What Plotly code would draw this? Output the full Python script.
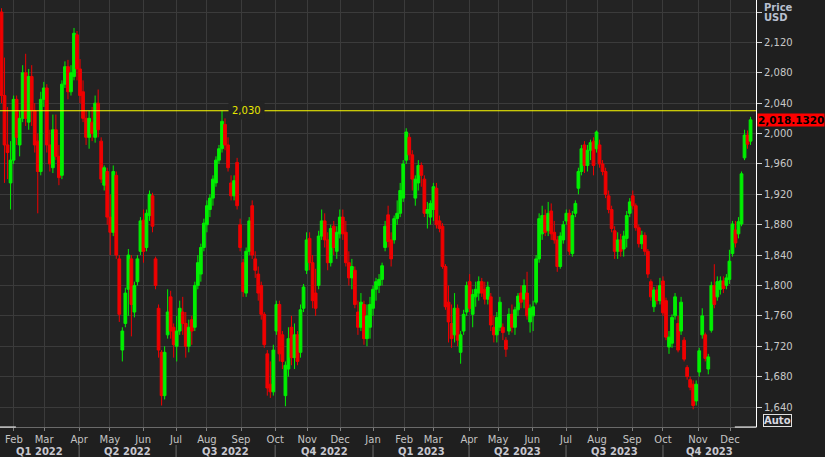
import plotly.graph_objects as go

# Each candle = 2 trading sessions, Jan 2022 .. Dec 2023
OPEN = [2160, 2050, 1985, 1935, 1965, 2045, 1985, 2020, 2080, 2015,
        2075, 2030, 1990, 1950, 2045, 2060, 1985, 1955, 2005, 1970,
        1945, 2065, 2088, 2055, 2075, 2130, 2085, 2055, 2020, 1995,
        2015, 1995, 2040, 1990, 1932, 1950, 1890, 1870, 1945, 1835,
        1715, 1750, 1795, 1835, 1765, 1805, 1845, 1886, 1850, 1892,
        1918, 1835, 1770, 1712, 1655, 1735, 1785, 1745, 1720, 1740,
        1765, 1750, 1720, 1755, 1745, 1800, 1815, 1850, 1880, 1900,
        1915, 1935, 1965, 1980, 2012, 1985, 1935, 1918, 1962, 1880,
        1830, 1790, 1845, 1905, 1835, 1815, 1800, 1762, 1710, 1670,
        1660, 1740, 1775, 1735, 1655, 1690, 1745, 1705, 1735, 1712,
        1770, 1820, 1862, 1830, 1790, 1800, 1865, 1885, 1860, 1830,
        1878, 1845, 1868, 1890, 1870, 1830, 1810, 1820, 1765, 1745,
        1775, 1730, 1745, 1770, 1795, 1800, 1808, 1850, 1893, 1860,
        1860, 1888, 1895, 1915, 1965, 1995, 1972, 1915, 1935, 1958,
        1940, 1895, 1890, 1900, 1928, 1885, 1878, 1825, 1778, 1750,
        1735, 1770, 1712, 1740, 1765, 1805, 1762, 1785, 1790, 1805,
        1795, 1782, 1785, 1745, 1735, 1745, 1745, 1728, 1740, 1762,
        1745, 1768, 1790, 1782, 1790, 1752, 1760, 1778, 1835, 1868,
        1892, 1872, 1898, 1870, 1860, 1825, 1860, 1885, 1895, 1842,
        1895, 1928, 1950, 1985, 1958, 1978, 1990, 1980, 1985, 1960,
        1950, 1918, 1900, 1872, 1845, 1860, 1848, 1862, 1895, 1918,
        1905, 1876, 1855, 1866, 1845, 1805, 1772, 1794, 1780, 1806,
        1780, 1719, 1724, 1760, 1750, 1740, 1728, 1692, 1676, 1670,
        1648, 1686, 1735, 1735, 1690, 1741, 1800, 1785, 1795, 1806,
        1800, 1808, 1842, 1873, 1868, 1881, 1968, 1998, 1990]

HIGH = [2165, 2100, 2035, 1990, 2050, 2050, 2030, 2090, 2105, 2085,
        2090, 2040, 2000, 2055, 2068, 2065, 2005, 2025, 2025, 1985,
        2070, 2095, 2097, 2090, 2139, 2135, 2098, 2070, 2030, 2030,
        2035, 2050, 2058, 1995, 1958, 1955, 1920, 1958, 1950, 1840,
        1745, 1797, 1848, 1840, 1805, 1840, 1890, 1900, 1900, 1925,
        1922, 1838, 1775, 1715, 1720, 1795, 1793, 1750, 1760, 1780,
        1785, 1765, 1755, 1760, 1805, 1840, 1855, 1888, 1912, 1920,
        1945, 1970, 1985, 2030, 2020, 1995, 1945, 1945, 1968, 1888,
        1835, 1850, 1890, 1912, 1845, 1825, 1805, 1765, 1715, 1700,
        1722, 1780, 1780, 1740, 1700, 1745, 1760, 1750, 1740, 1775,
        1802, 1870, 1870, 1840, 1822, 1872, 1900, 1895, 1870, 1880,
        1885, 1878, 1900, 1900, 1885, 1845, 1835, 1825, 1780, 1790,
        1780, 1775, 1785, 1800, 1810, 1815, 1830, 1885, 1905, 1870,
        1892, 1912, 1935, 1965, 2007, 2000, 1978, 1945, 1965, 1962,
        1945, 1910, 1912, 1935, 1935, 1892, 1882, 1828, 1800, 1775,
        1790, 1775, 1740, 1768, 1805, 1815, 1795, 1805, 1812, 1810,
        1805, 1805, 1790, 1760, 1765, 1785, 1750, 1732, 1770, 1775,
        1772, 1790, 1800, 1808, 1818, 1775, 1780, 1840, 1895, 1905,
        1900, 1910, 1908, 1885, 1865, 1870, 1885, 1900, 1900, 1898,
        1912, 1955, 1985, 1990, 1985, 1992, 1995, 2004, 1992, 1965,
        1955, 1925, 1905, 1878, 1870, 1868, 1872, 1898, 1915, 1925,
        1908, 1880, 1872, 1870, 1848, 1808, 1798, 1800, 1810, 1812,
        1784, 1740, 1762, 1790, 1760, 1785, 1732, 1695, 1680, 1675,
        1675, 1718, 1770, 1738, 1710, 1805, 1828, 1812, 1812, 1812,
        1815, 1847, 1885, 1885, 1890, 1950, 2005, 2004, 2022]

LOW = [2040, 1935, 1940, 1900, 1960, 1985, 1970, 2015, 2010, 2005,
       2010, 1975, 1895, 1945, 2035, 1975, 1950, 1948, 1965, 1932,
       1940, 2060, 2045, 2050, 2070, 2070, 2040, 2015, 1985, 1980,
       1990, 1988, 1995, 1935, 1925, 1880, 1840, 1865, 1835, 1752,
       1700, 1745, 1760, 1733, 1758, 1800, 1840, 1830, 1845, 1885,
       1870, 1795, 1705, 1642, 1650, 1730, 1730, 1705, 1700, 1735,
       1735, 1705, 1712, 1722, 1740, 1795, 1805, 1845, 1870, 1890,
       1905, 1930, 1960, 1975, 1978, 1950, 1912, 1912, 1900, 1845,
       1785, 1785, 1840, 1835, 1810, 1780, 1755, 1718, 1655, 1652,
       1655, 1735, 1700, 1690, 1641, 1680, 1695, 1690, 1695, 1705,
       1765, 1815, 1820, 1770, 1760, 1795, 1860, 1850, 1820, 1825,
       1840, 1835, 1862, 1860, 1825, 1800, 1795, 1770, 1735, 1740,
       1722, 1720, 1730, 1760, 1780, 1790, 1800, 1845, 1850, 1825,
       1855, 1880, 1890, 1910, 1960, 1965, 1925, 1905, 1925, 1930,
       1890, 1875, 1880, 1885, 1875, 1870, 1822, 1768, 1725, 1718,
       1725, 1720, 1697, 1735, 1760, 1765, 1745, 1772, 1780, 1785,
       1775, 1775, 1740, 1725, 1725, 1740, 1728, 1706, 1735, 1738,
       1735, 1760, 1770, 1770, 1755, 1738, 1740, 1775, 1830, 1860,
       1865, 1865, 1860, 1855, 1818, 1822, 1855, 1880, 1840, 1838,
       1890, 1920, 1945, 1948, 1950, 1965, 1945, 1975, 1955, 1945,
       1915, 1895, 1870, 1835, 1835, 1838, 1838, 1850, 1890, 1900,
       1872, 1850, 1848, 1840, 1810, 1780, 1765, 1775, 1775, 1760,
       1728, 1710, 1718, 1755, 1712, 1735, 1700, 1676, 1662, 1637,
       1642, 1680, 1730, 1700, 1683, 1738, 1770, 1780, 1788, 1790,
       1795, 1802, 1838, 1850, 1862, 1878, 1965, 1980, 1985]

CLOSE = [2050, 1985, 1975, 1965, 2045, 1995, 2020, 2080, 2020, 2075,
         2030, 1985, 1950, 2045, 2060, 1985, 1960, 2005, 1970, 1942,
         2065, 2088, 2055, 2080, 2132, 2085, 2050, 2020, 1995, 2020,
         2000, 2040, 2005, 1940, 1955, 1890, 1870, 1950, 1840, 1762,
         1740, 1790, 1840, 1775, 1800, 1835, 1885, 1845, 1895, 1920,
         1878, 1800, 1715, 1655, 1712, 1765, 1740, 1722, 1740, 1770,
         1750, 1720, 1745, 1740, 1800, 1830, 1850, 1882, 1905, 1915,
         1940, 1965, 1980, 2016, 1985, 1955, 1918, 1938, 1905, 1850,
         1792, 1845, 1885, 1840, 1820, 1790, 1762, 1722, 1665, 1660,
         1715, 1775, 1710, 1700, 1695, 1730, 1705, 1735, 1700, 1768,
         1798, 1860, 1830, 1780, 1770, 1865, 1885, 1860, 1830, 1875,
         1850, 1870, 1890, 1868, 1830, 1810, 1825, 1775, 1745, 1778,
         1730, 1760, 1775, 1795, 1805, 1808, 1826, 1878, 1858, 1835,
         1888, 1895, 1925, 1960, 2002, 1972, 1940, 1940, 1958, 1945,
         1895, 1900, 1908, 1930, 1880, 1875, 1825, 1772, 1752, 1730,
         1770, 1728, 1735, 1762, 1800, 1770, 1788, 1795, 1805, 1790,
         1782, 1798, 1748, 1735, 1758, 1778, 1738, 1716, 1762, 1745,
         1768, 1786, 1778, 1800, 1760, 1770, 1772, 1835, 1888, 1892,
         1870, 1895, 1868, 1860, 1825, 1865, 1880, 1895, 1845, 1892,
         1908, 1950, 1980, 1958, 1978, 1988, 1958, 2002, 1960, 1950,
         1920, 1900, 1875, 1845, 1860, 1845, 1865, 1892, 1910, 1905,
         1876, 1855, 1866, 1845, 1815, 1785, 1794, 1780, 1800, 1764,
         1732, 1732, 1758, 1785, 1715, 1778, 1703, 1680, 1666, 1642,
         1670, 1714, 1760, 1704, 1706, 1800, 1775, 1805, 1806, 1796,
         1810, 1832, 1881, 1856, 1884, 1947, 1998, 1986, 2018]

PERIOD = list(range(len(CLOSE)))

# month starts, in candle-period units
MONTH_POS = [4.1, 14.1, 25.7, 35.9, 46.9, 57.8, 68.0, 79.3, 90.6, 101.2, 112.1,
             123.0, 133.3, 142.9, 154.8, 164.4, 175.7, 186.9, 197.2, 208.8,
             219.0, 230.6, 241.2]
MONTH_LABELS = ["Feb", "Mar", "Apr", "May", "Jun", "Jul", "Aug", "Sep", "Oct",
                "Nov", "Dec", "Jan", "Feb", "Mar", "Apr", "May", "Jun", "Jul",
                "Aug", "Sep", "Oct", "Nov", "Dec"]
QUARTER_LABELS = ["Q1 2022", "Q2 2022", "Q3 2022", "Q4 2022",
                  "Q1 2023", "Q2 2023", "Q3 2023", "Q4 2023"]
PRICE_TICKS = [1640, 1680, 1720, 1760, 1800, 1840, 1880, 1920, 1960, 2000,
               2040, 2080, 2120, 2160]
REF_LEVEL = 2030
REF_LABEL_POS = 81
LAST_PRICE = 2018.1320

X_RANGE = [-0.5, 249.8]
Y_RANGE = [1613.7, 2175.8]

PLOT_BG = "#232323"
PAPER_BG = "#1f1f1f"
GRID = "#3b3b3b"
FONT = "DejaVu Sans"

fig = go.Figure()
fig.add_trace(go.Candlestick(
    x=PERIOD, open=OPEN, high=HIGH, low=LOW, close=CLOSE,
    increasing=dict(line=dict(color="#00f000", width=1), fillcolor="#00f000"),
    decreasing=dict(line=dict(color="#f00000", width=1), fillcolor="#f00000"),
    whiskerwidth=0, showlegend=False, hoverinfo="skip"))

tick_text = ["" if v == 2160 else f"{v:,}" for v in PRICE_TICKS]

# quarter boundaries from month labels
q_bounds = [p for p, m in zip(MONTH_POS, MONTH_LABELS) if m in ("Jan", "Apr", "Jul", "Oct")]
edges = [X_RANGE[0]] + q_bounds + [X_RANGE[1]]

annotations = []
for i, q in enumerate(QUARTER_LABELS):
    annotations.append(dict(x=(edges[i] + edges[i + 1]) / 2, xref="x", y=-0.057, yref="paper",
                            text=f"<b>{q}</b>", showarrow=False, yanchor="middle",
                            font=dict(family=FONT, size=10, color="#c8c8d0")))
annotations += [
    dict(x=REF_LABEL_POS, y=REF_LEVEL, xref="x", yref="y", text=f"{REF_LEVEL:,}", showarrow=False,
         bgcolor=PLOT_BG, borderpad=3, font=dict(family=FONT, size=10, color="#e8e800")),
    dict(x=1.0015, xref="paper", y=LAST_PRICE, yref="y", text=f"<b>{LAST_PRICE:,.4f}</b>",
         showarrow=False, xanchor="left", yanchor="middle", bgcolor="#ff0000", borderpad=0,
         font=dict(family=FONT, size=10.5, color="#000000")),
    dict(x=1.008, xref="paper", y=1.0, yref="paper", text="<b>Price</b>", showarrow=False,
         xanchor="left", yanchor="top", font=dict(family=FONT, size=10, color="#b8c0d0")),
    dict(x=1.008, xref="paper", y=0.958, yref="paper", text="<b>USD</b>", showarrow=False,
         xanchor="left", yanchor="middle", font=dict(family=FONT, size=10, color="#b8c0d0")),
    dict(x=1.0093, xref="paper", y=0.0155, yref="paper", text="<b>Auto</b>", showarrow=False,
         xanchor="left", yanchor="middle", bordercolor="#e0e0e0", borderwidth=1, borderpad=0,
         font=dict(family=FONT, size=10, color="#d8d8e0")),
]

shapes = [
    dict(type="line", xref="paper", x0=0, x1=1, yref="y", y0=REF_LEVEL, y1=REF_LEVEL,
         line=dict(color="#ffff00", width=1)),
    dict(type="line", xref="paper", x0=0, x1=0.021, yref="paper", y0=0, y1=0,
         line=dict(color="#ffffff", width=1)),
    dict(type="line", xref="paper", x0=0.972, x1=1, yref="paper", y0=0, y1=0,
         line=dict(color="#ffffff", width=1)),
]
for b in q_bounds:
    shapes.append(dict(type="line", xref="x", x0=b, x1=b, yref="paper", y0=-0.042, y1=-0.075,
                       line=dict(color="#6a6a6a", width=1)))

fig.update_layout(
    width=825, height=457,
    margin=dict(l=0, r=69, t=0, b=30, pad=0),
    paper_bgcolor=PAPER_BG, plot_bgcolor=PLOT_BG,
    boxgap=0.05, boxgroupgap=0.05,
    showlegend=False,
    annotations=annotations, shapes=shapes,
    xaxis=dict(range=X_RANGE, tickmode="array", tickvals=MONTH_POS, ticktext=MONTH_LABELS,
               showgrid=True, gridcolor=GRID, gridwidth=1, zeroline=False,
               ticks="outside", ticklen=3, tickcolor="#808080",
               showline=True, linecolor="#6a6a6a", linewidth=1,
               tickfont=dict(family=FONT, size=10, color="#c4c4c4"),
               rangeslider=dict(visible=False), fixedrange=True),
    yaxis=dict(range=Y_RANGE, side="right", tickmode="array", tickvals=PRICE_TICKS,
               ticktext=tick_text, showgrid=True, gridcolor=GRID, gridwidth=1,
               zeroline=False, ticks="outside", ticklen=5, tickcolor="#d0d0d0",
               showline=True, linecolor="#ffffff", linewidth=1,
               tickfont=dict(family=FONT, size=10, color="#c8c8c8"), fixedrange=True),
)

fig.write_html("out.html", config={"displayModeBar": False},
               post_script="document.body.style.margin='0';document.body.style.overflow='hidden';")
